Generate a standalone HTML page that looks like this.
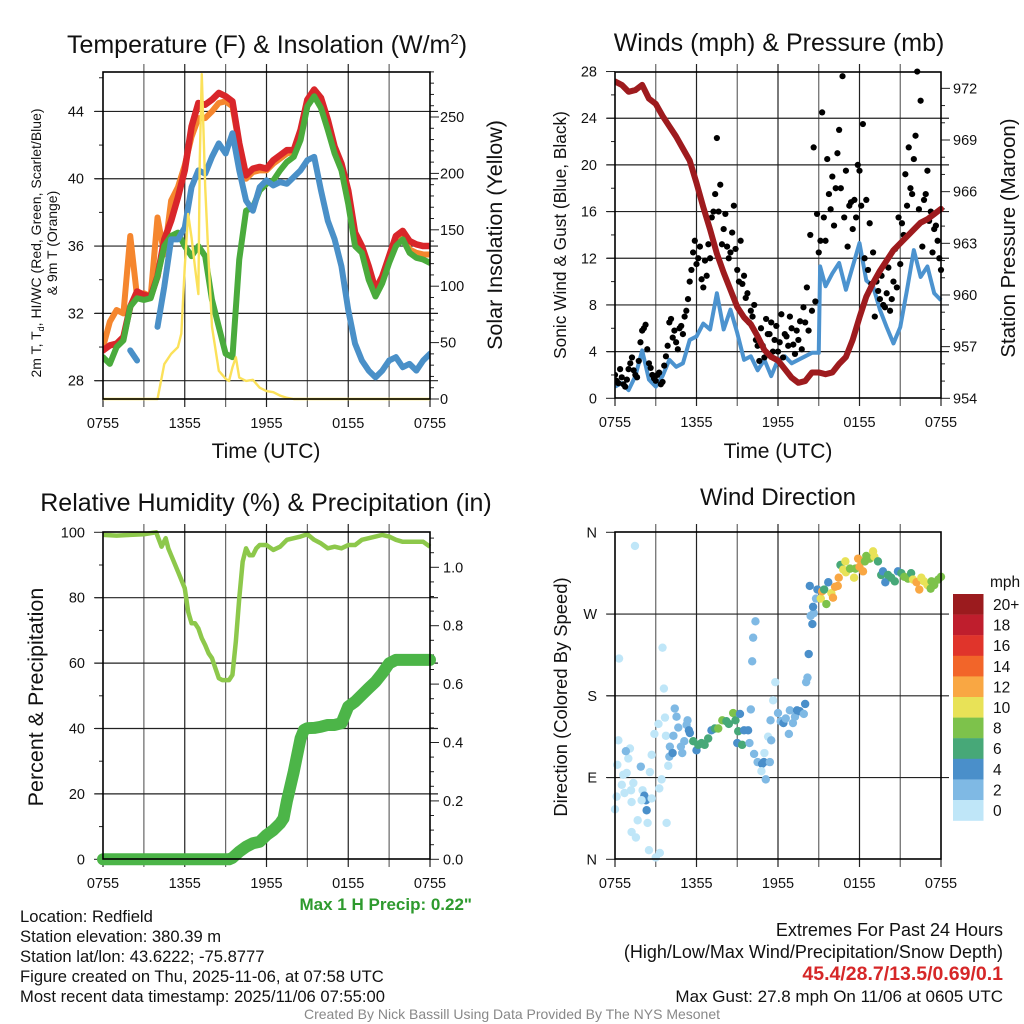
<!DOCTYPE html>
<html><head><meta charset="utf-8"><title>Mesonet Station Meteogram</title>
<style>
html,body{margin:0;padding:0;background:#fff;}
svg{display:block;font-family:"Liberation Sans",Arial,sans-serif;}
</style></head>
<body>
<svg id="chart" width="1024" height="1024" viewBox="0 0 1024 1024" xmlns="http://www.w3.org/2000/svg">
<rect x="0" y="0" width="1024" height="1024" fill="#fff"/>
</svg>
<script>
// ---------- DATA ----------
const timeLabels = ["0755","1355","1955","0155","0755"];
const halfHours = [0,0.5,1,1.5,2,2.5,3,3.5,4,4.5,5,5.5,6,6.5,7,7.5,8,8.5,9,9.5,10,10.5,11,11.5,12,12.5,13,13.5,14,14.5,15,15.5,16,16.5,17,17.5,18,18.5,19,19.5,20,20.5,21,21.5,22,22.5,23,23.5,24];
const temp2m = [29.8,30.1,30.2,30.6,32.4,33.3,33.1,33.0,34.2,36.4,37.5,38.9,40.5,43.1,44.5,44.4,44.7,45.1,44.9,44.6,42.1,40.2,40.6,40.7,40.6,41.1,41.4,41.7,41.7,42.9,44.7,45.3,44.8,43.5,41.9,40.9,39.3,36.8,36.0,34.8,33.4,34.2,35.4,36.6,36.9,36.3,36.1,36.0,36.0];
const temp9m = [30.0,31.5,32.2,32.0,36.6,33.0,33.2,33.0,37.7,35.5,38.7,39.5,40.8,42.5,43.6,43.6,44.0,44.5,44.6,44.3,42.0,40.0,40.4,40.5,40.5,40.9,41.2,41.5,41.6,42.8,44.5,45.0,44.5,43.2,41.6,40.6,39.0,36.6,35.8,34.6,33.3,34.0,35.3,36.4,36.7,35.8,35.6,35.5,35.5];
const heatIndexWC = [29.4,29.0,30.0,30.4,32.4,32.9,32.8,32.9,34.2,36.0,36.6,36.8,36.0,35.4,36.0,35.4,32.8,31.2,29.6,29.4,35.2,38.1,38.3,39.3,39.7,39.9,40.5,41.0,41.3,42.3,44.3,44.9,44.2,42.9,41.5,40.5,38.5,36.0,35.6,34.0,33.0,33.8,35.0,36.0,36.4,35.6,35.3,35.2,35.0];
const dewpoint = [null,null,null,null,29.8,29.2,null,null,31.2,33.6,36.4,36.4,37.1,39.5,40.5,40.3,41.3,42.1,41.5,42.7,40.5,38.7,38.1,39.5,39.9,39.6,39.8,39.7,40.1,40.5,41.1,41.3,39.3,37.5,36.4,34.8,32.2,30.2,29.2,28.6,28.2,28.6,29.2,29.4,28.8,29.0,28.6,29.2,29.6];
const solarHours = [0,4,4.5,5,5.5,5.75,6,6.25,6.5,6.75,7,7.1,7.25,7.5,7.75,8,8.5,9,9.25,9.5,9.75,10,10.5,11,11.5,12,12.5,13,13.5,14,24];
const solarVals = [0,0,31,40,46,58,117,164,143,117,93,211,288,188,123,64,25,18,16,28,37,19,16,17,10,7,6,3,1,0,0];

const pressure = [972.4,972.2,971.8,971.9,972.2,971.4,971.1,970.4,969.8,969.2,968.5,967.8,966.5,965.1,963.8,962.4,961.3,960.3,959.3,958.7,958.3,957.6,956.8,956.4,956.2,955.7,955.2,954.9,955.0,955.5,955.5,955.4,955.5,956.0,956.4,957.4,958.7,959.9,960.7,961.4,962.0,962.6,963.0,963.4,963.8,964.2,964.4,964.7,965.0];
const sonicHours = [0,0.5,1,1.5,2,2.5,3,3.5,4,4.5,5,5.5,6,6.5,7,7.5,8,8.5,9,9.5,10,10.5,11,11.5,12,12.5,13,13.5,14,14.5,15,15.1,15.5,16,16.5,17,17.5,18,18.5,19,19.5,20,20.5,21,21.5,22,22.5,23,23.5,24];
const sonicWind = [1.0,1.3,0.7,1.9,4.1,1.6,1.0,1.9,3.3,2.7,3.0,5.0,5.3,6.4,5.9,9.0,5.9,7.6,5.6,3.3,3.6,2.4,3.3,1.9,3.3,3.6,3.0,3.3,3.6,3.9,3.9,11.3,9.6,10.7,11.6,9.3,11.3,13.3,10.1,9.6,7.6,6.1,4.7,6.1,9.3,12.7,10.4,11.3,9.0,8.4];
const gustA = [2.0,1.3,1.8,1.0,2.5,3.5,2.0,3.2,5.8,6.3,3.0,2.0,1.5,2.2,1.4,3.6,6.5,5.2,4.8,6.0,5.5,7.5,
 10.0,12.5,11.5,13.0,9.5,10.5,12.0,16.0,22.3,18.3,14.5,13.0,12.5,16.5,11.0,13.5,10.5,9.0,7.5,8.0,4.5,6.0,3.5,5.5,6.5,5.0,4.0,7.2,5.5,4.5,6.0,3.8,5.0,4.2,6.5,5.8,7.5,8.3,12.5,24.5,13.5,17.5,19.0,18.0,23.0,27.6,19.5,16.5,14.5,15.5,19.5,23.5,17.0,15.0,12.5,10.0,8.5,8.0,9.0,7.5,10.0,9.5,11.5,14.0,16.5,18.0,20.5,28.0,25.5,17.0,19.5,16.0,14.5,13.5,11.0];
const gustB = [1.5,2.5,1.2,1.6,3.0,2.4,1.8,4.8,6.0,4.2,2.6,1.7,2.0,1.2,2.8,4.5,6.8,5.8,4.2,6.2,7.0,
 8.5,11.0,13.5,12.0,10.2,11.8,13.2,15.5,17.5,16.0,13.2,15.8,12.0,14.2,12.8,10.0,9.8,8.6,6.5,7.0,5.0,3.2,4.5,6.8,5.5,4.0,6.2,4.8,3.5,5.3,7.0,4.6,5.8,6.6,7.8,9.5,14.0,21.5,15.8,13.5,15.5,20.5,16.2,14.8,21.0,18.0,15.5,13.0,16.8,17.0,20.0,16.5,12.0,11.0,9.8,7.0,9.2,10.5,7.8,11.2,8.5,12.8,15.5,15.0,19.2,21.5,17.5,22.5,16.2,13.0,17.5,15.2,12.5,14.8,12.0];

const rhHours = [0,1,2,3,3.9,4.3,4.6,4.8,5,5.5,6,6.25,6.5,6.75,7,7.25,7.5,7.75,8,8.25,8.5,8.75,9,9.25,9.5,9.75,10,10.25,10.5,10.75,11,11.25,11.5,12,12.5,13,13.5,14,14.5,15,15.5,16,16.5,17,17.5,18,18.5,19,19.5,20,20.5,21,21.5,22,22.5,23,23.5,24];
const rhVals = [99.2,99.0,99.2,99.4,100,95.6,98.2,95,93,88,82.9,75.7,72.2,72.2,70.6,67.6,65.5,63,61.5,58.4,55.4,54.8,54.8,54.8,56.4,66.6,79.8,91,95.1,93,93,95.1,96.1,96.1,94.6,95.6,97.7,98.2,98.7,99.4,97.7,96.6,95.1,95.6,95.1,96.1,96.1,97.7,98.2,98.7,99.2,98.7,97.7,97.1,97.1,97.1,97.1,95.6];
const precHours = [0,9.25,9.5,10,10.5,11,11.5,12,12.5,13,13.25,13.5,14,14.5,14.75,15,15.5,16,16.5,17,17.5,18,18.5,19,19.5,20,20.5,21,21.5,24];
const precVals = [0,0,0.005,0.026,0.043,0.055,0.06,0.083,0.10,0.123,0.14,0.2,0.30,0.414,0.443,0.449,0.45,0.454,0.46,0.46,0.466,0.523,0.54,0.563,0.586,0.608,0.637,0.671,0.683,0.683];

const dirHours = [1.47,0.3,0.25,0.17,0.12,0,0.5,0.7,0.6,0.86,0.98,1.1,0.8,1.18,1.35,1.22,1.67,1.22,1.54,1.9,2.03,2.16,2.28,2.33,1.96,2.7,2.4,2.5,3,3.3,2.57,3.26,3.43,3.8,3.92,4,2.7,2.9,3.2,3.68,3.75,3.5,3.6,4.04,4.24,4.3,4.4,4.53,4.66,4.85,4.95,5.1,5.27,5.34,5.44,5.51,5.76,6,6.13,6.37,6.6,6.86,7.1,7.35,7.6,7.9,8.2,8.38,8.7,8.87,9.2,9,9.07,9.36,9.5,9.8,9.9,10,10.1,10.17,10.34,10.24,10.5,10.83,10.96,10.78,11.1,11,11.4,11.27,11.5,11.45,11.64,11.8,12,12.2,12.4,12.57,12.8,12.87,13.1,13.25,13.4,13.6,13.9,14,14.07,14.17,14.26,14.53,14.4,14.63,14.58,14.8,14.9,14.34,15.15,15.25,15.4,15.56,15.7,15.93,16.05,16.2,16.4,16.47,16.6,16.8,16.96,17,17.3,17.6,17.7,17.9,18,18.14,18.26,18.4,18.5,18.75,19,19.1,19.36,19.6,19.73,19.9,20.1,20.34,20.6,20.83,21.08,21.3,21.57,21.8,21.94,22.2,22.4,22.55,22.75,23,23.3,23.24,23.5,23.8,24];
const dirDeg = [345,221,131,104,69,55,82,73,93,95,111,122,119,76,84,63,43,30,24,102,76,70,65,54,65,67,40,10,2,7,96,78,88,40,103,113,115,138,149,156,136,233,188,124,117,136,166,157,145,124,117,130,148,153,142,139,130,120,126,128,126,133,142,144,144,153,152,149,161,153,160,128,141,126,142,142,128,165,218,244,262,116,107,105,107,97,88,117,107,135,131,153,175,195,161,152,150,155,138,164,150,157,164,163,160,171,195,200,226,259,268,271,278,287,297,301,287,295,297,281,305,293,288,300,301,310,324,319,328,316,320,310,320,331,322,328,317,328,334,331,339,333,328,313,317,305,313,310,306,317,315,311,309,315,308,305,297,310,306,302,306,298,302,308,311];
const dirSpeed = [1,1,1,1,1,1,1,1,1,1,1,1,3,1,1,1,1,1,1,3,1,5,5,5,1,1,1,1,1,1,1,1,1,1,1,3,1,1,1,1,1,1,1,3,5,3,3,3,3,3,3,3,3,3,5,5,7,5,7,7,7,7,5,7,9,9,7,7,9,7,5,5,7,7,5,5,3,3,3,3,3,3,3,5,5,1,3,1,3,1,3,3,1,1,3,3,5,3,3,3,3,3,5,5,3,5,3,3,5,5,3,3,5,3,5,5,10,13,7,9,5,10,13,13,13,12,7,10,11,10,9,10,9,13,13,12,13,9,9,9,11,11,7,7,5,5,7,7,7,5,7,9,9,7,11,13,13,10,11,10,9,9,9,9,9];
const speedBinLabels = ["20+","18","16","14","12","10","8","6","4","2","0"];
const speedBinColors = ["#9b1b1e","#bf1e2d","#e0342b","#f26529","#f9a743","#e8e257","#7dc24b","#47a878","#4a8fca","#7fb9e4","#bfe6f8"];

// ---------- HELPERS ----------
const NS = "http://www.w3.org/2000/svg";
const svg = document.getElementById('chart');
function mk(tag, attrs, parent) {
  const el = document.createElementNS(NS, tag);
  for (const k in attrs) el.setAttribute(k, attrs[k]);
  (parent || svg).appendChild(el);
  return el;
}
function txt(str, attrs, parent) {
  const el = mk('text', attrs, parent);
  el.textContent = str;
  return el;
}
function linPath(xs, ys, fx, fy) {
  let d = "", pen = false;
  for (let i = 0; i < xs.length; i++) {
    if (ys[i] === null || ys[i] === undefined) { pen = false; continue; }
    d += (pen ? "L" : "M") + fx(xs[i]).toFixed(2) + "," + fy(ys[i]).toFixed(2);
    pen = true;
  }
  return d;
}
function frame(name, x0, x1, y0, y1, hGridVals, fyGrid) {
  const g = mk('g', {});
  
  
  for (let h = 3; h < 24; h += 3) {
    const x = x0 + h * (x1 - x0) / 24;
    const l = mk('line', {x1: x, x2: x, y1: y0 - 8, y2: y1 + 8, stroke: (h % 6 === 0) ? '#222' : '#666', 'stroke-width': 1.2}, g);
    
    
  }
  for (const v of hGridVals) {
    const y = fyGrid(v);
    const l = mk('line', {x1: x0 - 8, x2: x1 + 8, y1: y, y2: y, stroke: '#222', 'stroke-width': 1.2}, g);
    
    
  }
  for (const x of [x0, x1]) {
    const l = mk('line', {x1: x, x2: x, y1: y1, y2: y1 + 8, stroke: '#222', 'stroke-width': 1.2}, g);
    
    
  }
  for (let i = 0; i < timeLabels.length; i++) {
    const x = x0 + i * 6 * (x1 - x0) / 24;
    const t = txt(timeLabels[i], {x: x, y: y1 + 29, 'font-size': 14.5, 'text-anchor': 'middle', fill: '#111'}, g);
    
    
  }
  return g;
}
function box(name, x0, x1, y0, y1) {
  const r = mk('rect', {x: x0, y: y0, width: x1 - x0, height: y1 - y0, fill: 'none', stroke: '#000', 'stroke-width': 1.6});
  
  
}
function yTicks(name, vals, fy, xAxis, side, len, labelFmt, labelX, anchor) {
  const g = mk('g', {});
  
  
  for (const v of vals) {
    const y = fy(v);
    const dx = side === 'left' ? -len : len;
    const l = mk('line', {x1: xAxis, x2: xAxis + dx, y1: y, y2: y, stroke: '#222', 'stroke-width': 1}, g);
    
    
    if (labelFmt) {
      const t = txt(labelFmt(v), {x: labelX, y: y + 5, 'font-size': 14.5, 'text-anchor': anchor, fill: '#111'}, g);
      
      
    }
  }
}
function rotLabel(str, cx, cy, size, name) {
  const t = txt(str, {x: 0, y: 0, 'font-size': size, 'text-anchor': 'middle', fill: '#111', transform: 'translate(' + cx + ',' + cy + ') rotate(-90)'});
  
  
  return t;
}
function range(a, b, s) { const r = []; for (let v = a; v <= b + 1e-9; v += s) r.push(+v.toFixed(4)); return r; }

// ---------- PANEL 1: TEMPERATURE ----------
(function () {
  const x0 = 103, x1 = 430, y0 = 72, y1 = 399;
  const fx = h => x0 + h * (x1 - x0) / 24;
  const fy = v => 380.7 - (v - 28) * 16.83;
  const fs = s => 399 - s * 56.4 / 50;
  frame('temperature', x0, x1, y0, y1, [28, 32, 36, 40, 44], fy);
  yTicks('temperature-left-minor-ticks', [30, 34, 38, 42, 46], fy, x0, 'left', 4, null);
  yTicks('temperature-left-axis', [28, 32, 36, 40, 44], fy, x0, 'left', 9, v => String(v), 84, 'end');
  yTicks('insolation-right-minor-ticks', range(10, 290, 10).filter(v => v % 50 !== 0), fs, x1, 'right', 4, null);
  yTicks('insolation-right-axis', [0, 50, 100, 150, 200, 250], fs, x1, 'right', 9, v => String(v), 440, 'start');
  const clip = mk('clipPath', {id: 'clipT'});
  mk('rect', {x: x0, y: y0, width: x1 - x0, height: y1 - y0 + 2}, clip);
  const g = mk('g', {'clip-path': 'url(#clipT)'});
  
  
  const series = [
    ['temp-9m-orange-line', temp9m, '#f5862e', 6],
    ['temp-2m-red-line', temp2m, '#d9262a', 6.5],
    ['heat-index-green-line', heatIndexWC, '#4aab3c', 6],
    ['dewpoint-blue-line', dewpoint, '#4a90c8', 6]
  ];
  for (const s of series) {
    const p = mk('path', {d: linPath(halfHours, s[1], fx, fy), fill: 'none', stroke: s[2], 'stroke-width': s[3], 'stroke-linejoin': 'round', 'stroke-linecap': 'round'}, g);
    
    
  }
  const sp = mk('path', {d: linPath(solarHours, solarVals, fx, fs), fill: 'none', stroke: '#fbe15a', 'stroke-width': 2.4, 'stroke-linejoin': 'round'}, g);
  
  
  box('temperature', x0, x1, y0, y1);
  const t = mk('text', {x: 267, y: 53, 'font-size': 25, 'text-anchor': 'middle', fill: '#111'});
  
  
  t.appendChild(document.createTextNode('Temperature (F) & Insolation (W/m'));
  const sup = mk('tspan', {'font-size': 15, dy: -9}, t);
  sup.textContent = '2';
  const close = mk('tspan', {dy: 9}, t);
  close.textContent = ')';
  const xl = txt('Time (UTC)', {x: 266, y: 458, 'font-size': 21, 'text-anchor': 'middle', fill: '#111'});
  
  
  const yl = mk('text', {x: 0, y: 0, 'font-size': 14, 'text-anchor': 'middle', fill: '#111', transform: 'translate(41,243) rotate(-90)'});
  
  
  yl.appendChild(document.createTextNode('2m T, T'));
  const sub = mk('tspan', {'font-size': 9, dy: 3}, yl);
  sub.textContent = 'd';
  const rest = mk('tspan', {dy: -3}, yl);
  rest.textContent = ', HI/WC (Red, Green, Scarlet/Blue)';
  rotLabel('& 9m T (Orange)', 57, 243, 14, 'temperature-y-axis-title-line2');
  rotLabel('Solar Insolation (Yellow)', 502, 235, 21.5, 'insolation-y-axis-title');
})();

// ---------- PANEL 2: WINDS ----------
(function () {
  const x0 = 615, x1 = 941, y0 = 72, y1 = 398;
  const fx = h => x0 + h * (x1 - x0) / 24;
  const fy = v => 398.3 - v * 11.67;
  const fp = p => 398.3 - (p - 954) * 17.22;
  frame('winds', x0, x1, y0, y1, [4, 8, 12, 16, 20, 24], fy);
  yTicks('wind-left-minor-ticks', [2, 6, 10, 14, 18, 22, 26], fy, x0, 'left', 4, null);
  yTicks('wind-left-axis', [0, 4, 8, 12, 16, 20, 24, 28], fy, x0, 'left', 9, v => String(v), 597, 'end');
  yTicks('pressure-right-minor-ticks', range(955, 972, 1).filter(v => v % 3 !== 0), fp, x1, 'right', 4, null);
  yTicks('pressure-right-axis', [954, 957, 960, 963, 966, 969, 972], fp, x1, 'right', 9, v => String(v), 953, 'start');
  const clip = mk('clipPath', {id: 'clipW'});
  mk('rect', {x: x0, y: y0 - 4, width: x1 - x0 + 4, height: y1 - y0 + 6}, clip);
  const g = mk('g', {'clip-path': 'url(#clipW)'});
  
  
  const sw = mk('path', {d: linPath(sonicHours, sonicWind, fx, fy), fill: 'none', stroke: '#4c93cf', 'stroke-width': 4, 'stroke-linejoin': 'round'}, g);
  
  
  for (let i = 0; i < gustA.length; i++) {
    const c = mk('circle', {cx: fx(i * 0.25), cy: fy(gustA[i]), r: 3.1, fill: '#000'}, g);
    
    
  }
  for (let i = 0; i < gustB.length; i++) {
    const c = mk('circle', {cx: fx(0.125 + i * 0.25), cy: fy(gustB[i]), r: 3.1, fill: '#000'}, g);
    
    
  }
  const pp = mk('path', {d: linPath(halfHours, pressure, fx, fp), fill: 'none', stroke: '#9e1b1e', 'stroke-width': 6, 'stroke-linejoin': 'round', 'stroke-linecap': 'round'}, g);
  
  
  box('winds', x0, x1, y0, y1);
  const t = txt('Winds (mph) & Pressure (mb)', {x: 779, y: 51, 'font-size': 25, 'text-anchor': 'middle', fill: '#111'});
  
  
  const xl = txt('Time (UTC)', {x: 778, y: 458, 'font-size': 21, 'text-anchor': 'middle', fill: '#111'});
  
  
  rotLabel('Sonic Wind & Gust (Blue, Black)', 566, 235, 17.3, 'wind-y-axis-title');
  rotLabel('Station Pressure (Maroon)', 1015, 238, 20.4, 'pressure-y-axis-title');
})();

// ---------- PANEL 3: RH & PRECIP ----------
(function () {
  const x0 = 103, x1 = 430, y0 = 532, y1 = 859;
  const fx = h => x0 + h * (x1 - x0) / 24;
  const fy = v => 859.3 - v * 3.27;
  const fp = p => 859.3 - p * 292;
  frame('humidity', x0, x1, y0, y1, [20, 40, 60, 80], fy);
  yTicks('rh-left-minor-ticks', [10, 30, 50, 70, 90], fy, x0, 'left', 4, null);
  yTicks('rh-left-axis', [0, 20, 40, 60, 80, 100], fy, x0, 'left', 9, v => String(v), 85, 'end');
  yTicks('precip-right-minor-ticks', range(0.05, 1.1, 0.05).filter(v => Math.round(v * 100) % 20 !== 0), fp, x1, 'right', 4, null);
  yTicks('precip-right-axis', [0, 0.2, 0.4, 0.6, 0.8, 1.0], fp, x1, 'right', 9, v => v.toFixed(1), 443, 'start');
  const g = mk('g', {});
  
  
  const rp = mk('path', {d: linPath(rhHours, rhVals, fx, fy), fill: 'none', stroke: '#8dc84b', 'stroke-width': 4.5, 'stroke-linejoin': 'round'}, g);
  
  
  const pp = mk('path', {d: linPath(precHours, precVals, fx, fp), fill: 'none', stroke: '#4cb548', 'stroke-width': 12, 'stroke-linejoin': 'round', 'stroke-linecap': 'round'}, g);
  
  
  box('humidity', x0, x1, y0, y1);
  const t = txt('Relative Humidity (%) & Precipitation (in)', {x: 266, y: 511, 'font-size': 25, 'text-anchor': 'middle', fill: '#111'});
  
  
  rotLabel('Percent & Precipitation', 43, 697, 21.5, 'humidity-y-axis-title');
  const mp = txt('Max 1 H Precip: 0.22"', {x: 472, y: 910, 'font-size': 17, 'font-weight': 'bold', 'text-anchor': 'end', fill: '#2e9a2e'});
  
  
})();

// ---------- PANEL 4: WIND DIRECTION ----------
(function () {
  const x0 = 615, x1 = 941, y0 = 532, y1 = 859;
  const fx = h => x0 + h * (x1 - x0) / 24;
  const fy = d => 859.3 - d / 360 * 327;
  frame('direction', x0, x1, y0, y1, [90, 180, 270], fy);
  const dirLabels = ["N", "E", "S", "W", "N"];
  yTicks('direction-left-axis', [0, 90, 180, 270, 360], fy, x0, 'left', 9, v => dirLabels[v / 90], 597, 'end');
  const g = mk('g', {});
  
  
  for (let i = 0; i < dirHours.length; i++) {
    const bin = Math.min(10, Math.floor(dirSpeed[i] / 2));
    const c = mk('circle', {cx: fx(dirHours[i]), cy: fy(dirDeg[i]), r: 4.2, fill: speedBinColors[10 - bin]}, g);
    
    
  }
  box('direction', x0, x1, y0, y1);
  const t = txt('Wind Direction', {x: 778, y: 505, 'font-size': 24, 'text-anchor': 'middle', fill: '#111'});
  
  
  rotLabel('Direction (Colored By Speed)', 567, 697, 18.4, 'direction-y-axis-title');
  const cb = mk('g', {});
  
  
  const u = txt('mph', {x: 990, y: 587, 'font-size': 15.5, fill: '#111'}, cb);
  
  
  for (let i = 0; i < speedBinLabels.length; i++) {
    const by = 594 + i * 20.6;
    const r = mk('rect', {x: 953, y: by, width: 30.5, height: 20.8, fill: speedBinColors[i]}, cb);
    
    
    const l = txt(speedBinLabels[i], {x: 993, y: by + 16, 'font-size': 15.5, fill: '#111'}, cb);
    
    
  }
})();

// ---------- FOOTER TEXT ----------
(function () {
  const left = ["Location: Redfield", "Station elevation: 380.39 m", "Station lat/lon: 43.6222; -75.8777", "Figure created on Thu, 2025-11-06, at 07:58 UTC", "Most recent data timestamp: 2025/11/06 07:55:00"];
  for (let i = 0; i < left.length; i++) {
    const t = txt(left[i], {x: 20, y: 922 + i * 20, 'font-size': 16.6, fill: '#111'});
    
    
  }
  const r1 = txt('Extremes For Past 24 Hours', {x: 1003, y: 936, 'font-size': 18, 'text-anchor': 'end', fill: '#111'});
  
  
  const r2 = txt('(High/Low/Max Wind/Precipitation/Snow Depth)', {x: 1003, y: 958, 'font-size': 18, 'text-anchor': 'end', fill: '#111'});
  
  
  const r3 = txt('45.4/28.7/13.5/0.69/0.1', {x: 1003, y: 980, 'font-size': 19.5, 'font-weight': 'bold', 'text-anchor': 'end', fill: '#d62728'});
  
  
  const r4 = txt('Max Gust: 27.8 mph On 11/06 at 0605 UTC', {x: 1003, y: 1002, 'font-size': 17, 'text-anchor': 'end', fill: '#111'});
  
  
  const f = txt('Created By Nick Bassill Using Data Provided By The NYS Mesonet', {x: 512, y: 1019, 'font-size': 14, 'text-anchor': 'middle', fill: '#888'});
  
  
})();
</script>
</body></html>
